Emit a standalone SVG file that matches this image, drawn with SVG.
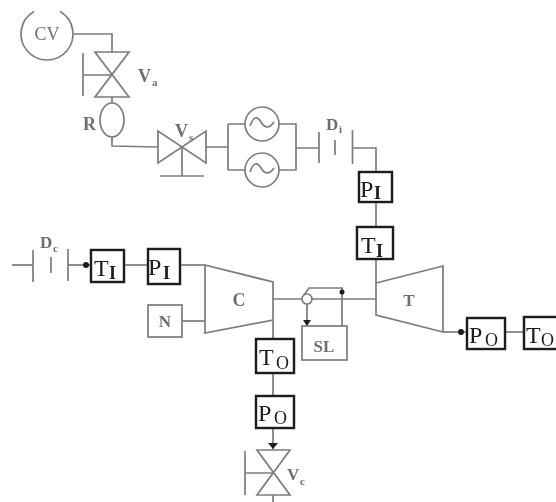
<svg xmlns="http://www.w3.org/2000/svg" width="556" height="502" viewBox="0 0 556 502">
<style>
.s{fill:none;stroke:#7c7c7c;stroke-width:1.7}
.w{fill:#fff;stroke:#7c7c7c;stroke-width:1.7}
.b{fill:#fff;stroke:#1c1c1c;stroke-width:2.4}
.d{fill:#1c1c1c;stroke:none}
text{font-family:"Liberation Serif","Times New Roman",serif}
.g{fill:#6e6e6e;font-size:17px;font-weight:bold}
.gs{fill:#6e6e6e;font-size:11px;font-weight:bold}
.k{fill:#1c1c1c;font-size:24px}
.ks{fill:#1c1c1c;font-size:18px}
</style>
<defs>
<filter id="soft" x="-5%" y="-5%" width="110%" height="110%"><feGaussianBlur stdDeviation="0.45"/></filter>
</defs>
<rect width="556" height="502" fill="#fff"/>
<g filter="url(#soft)">
<g id="connectors" class="s">
<path d="M74 34H112V52"/>
<path d="M112 97V105"/>
<path d="M112 135V146L158 147"/>
<path d="M206 147H228M228 124V170M228 124H245M228 170H245"/>
<path d="M279 124H296V170H279M296 148H319"/>
<path d="M353 148H376V172"/>
<path d="M376 202V227"/>
<path d="M376 259V283"/>
<path d="M12 265H33"/>
<path d="M68 265H91"/>
<path d="M124 265H148"/>
<path d="M180 265H205"/>
<path d="M182 321H205"/>
<path d="M273 299H302M312 299H376"/>
<path d="M273 320V339"/>
<path d="M273 373V396"/>
<path d="M273 428V450"/>
<path d="M273 495V502"/>
<path d="M304 295L309 288H342V326"/>
<path d="M307 304V326"/>
<path d="M443 332H467"/>
<path d="M505 332H524"/>
<circle class="d" cx="86" cy="265" r="3"/>
<circle class="d" cx="461" cy="332" r="3"/>
<circle class="d" cx="342" cy="292" r="2.5"/>
<path class="d" d="M303 320H311L307 326Z"/>
<path class="d" d="M268 443H278L273 449Z"/>
</g>
<g id="cv"><path class="w" d="M34 11.500A26 26 0 1 0 60 11.500"/><text x="47" y="40" text-anchor="middle" fill="#6e6e6e" font-size="18">CV</text></g>
<g id="va"><path class="s" d="M95 52H129L95 97H129ZM83 75H112M83 53V96"/><text class="g" x="138" y="82" style="font-size:18px">V</text><text class="gs" x="152" y="86">a</text></g>
<g id="r"><ellipse class="w" cx="112" cy="120" rx="12" ry="17"/><text class="g" x="83" y="130" style="font-size:18px">R</text></g>
<g id="vb"><path class="s" d="M158 131V163L206 131V163ZM182 147V176M160 176H204"/><text class="g" x="175" y="137" style="font-size:18px">V</text><text class="gs" x="189" y="141">s</text></g>
<g id="gen1"><circle class="w" cx="262" cy="124" r="17"/><path class="s" d="M250 126Q255 112 261 122T274 122"/></g>
<g id="gen2"><circle class="w" cx="262" cy="170" r="17"/><path class="s" d="M250 172Q255 158 261 168T274 168"/></g>
<g id="di"><path class="s" d="M319 132V163M335 140V155M352.500 130V164"/><text class="g" x="326" y="130">D</text><text class="gs" x="339" y="133">i</text></g>
<g id="pi-top"><rect class="b" x="359" y="172" width="33" height="30"/><text class="k" x="360" y="197">P</text><text class="ks" x="374" y="199" font-weight="bold">I</text></g>
<g id="ti-top"><rect class="b" x="357" y="227" width="36" height="32"/><text class="k" x="361" y="253">T</text><text class="ks" x="376" y="257" font-weight="bold">I</text></g>
<g id="turbine"><path class="s" d="M376 283L443 266V332L376 315Z"/><text class="g" x="409" y="306" text-anchor="middle">T</text></g>
<g id="sl-junction"><circle fill="#fff" stroke="#7c7c7c" stroke-width="1.700" cx="307" cy="299" r="5"/></g>
<g id="sl"><rect class="s" x="302" y="326" width="45" height="34"/><text class="g" x="324" y="352" text-anchor="middle">SL</text></g>
<g id="po-right"><rect class="b" x="467" y="318" width="38" height="31"/><text class="k" x="469" y="343">P</text><text class="ks" x="485" y="346">O</text></g>
<g id="to-right"><rect class="b" x="524" y="317" width="36" height="32"/><text class="k" x="526" y="343">T</text><text class="ks" x="541" y="346">O</text></g>
<g id="dc"><path class="s" d="M33 250V282M51 257V273M68 249V281"/><text class="g" x="40" y="248">D</text><text class="gs" x="53" y="252">c</text></g>
<g id="ti-left"><rect class="b" x="91" y="250" width="33" height="32"/><text class="k" x="94" y="276">T</text><text class="ks" x="109" y="279" font-weight="bold">I</text></g>
<g id="pi-left"><rect class="b" x="148" y="249" width="32" height="35"/><text class="k" x="148" y="275">P</text><text class="ks" x="163" y="279" font-weight="bold">I</text></g>
<g id="compressor"><path class="s" d="M205 265L273 282V320L205 333Z"/><text class="g" x="239" y="306" text-anchor="middle" style="font-size:18px">C</text></g>
<g id="n"><rect class="s" x="148" y="305" width="34" height="32"/><text class="g" x="165" y="327" text-anchor="middle">N</text></g>
<g id="to-bottom"><rect class="b" x="256" y="339" width="38" height="34"/><text class="k" x="259" y="365">T</text><text class="ks" x="276" y="369">O</text></g>
<g id="po-bottom"><rect class="b" x="256" y="396" width="38" height="32"/><text class="k" x="258" y="421">P</text><text class="ks" x="274" y="424">O</text></g>
<g id="vc"><path class="s" d="M257 450H290L257 495H290ZM245 473H273M245 451V495"/><text class="g" x="287" y="480">V</text><text class="gs" x="300" y="485">c</text></g>
</g>
</svg>
